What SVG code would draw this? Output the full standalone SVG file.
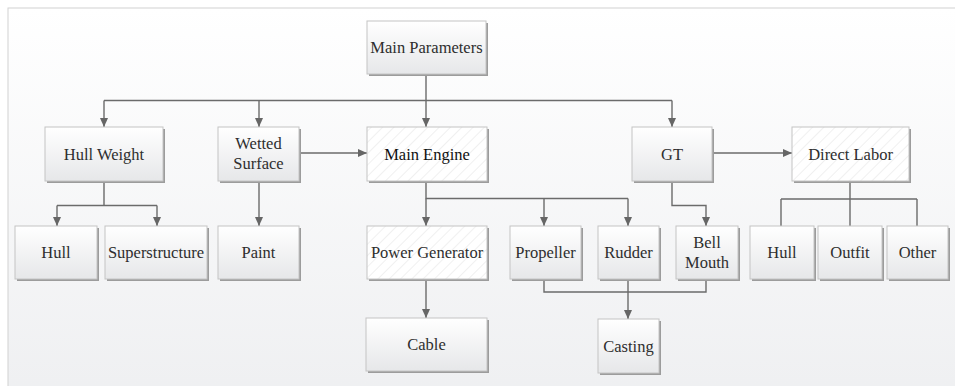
<svg xmlns="http://www.w3.org/2000/svg" width="955" height="386" viewBox="0 0 955 386">
<defs>
<linearGradient id="bg" x1="0" y1="0" x2="0" y2="1">
<stop offset="0" stop-color="#ffffff"/>
<stop offset="1" stop-color="#eeeff1"/>
</linearGradient>
<linearGradient id="box" x1="0" y1="0" x2="0" y2="1">
<stop offset="0" stop-color="#ffffff"/>
<stop offset="1" stop-color="#e6e7e9"/>
</linearGradient>
<pattern id="hatch" width="8" height="8" patternUnits="userSpaceOnUse" patternTransform="rotate(45)">
<rect width="8" height="8" fill="#ffffff"/>
<line x1="0" y1="0" x2="0" y2="8" stroke="#e2e2e2" stroke-width="1"/>
</pattern>
<marker id="arr" markerWidth="10" markerHeight="10" refX="9" refY="5" orient="auto" markerUnits="userSpaceOnUse">
<path d="M0,1 L9,5 L0,9 z" fill="#666"/>
</marker>
</defs>
<style>
.sh{fill:#9c9c9c;}
.bx{fill:url(#box);stroke:#c4c4c4;stroke-width:1;}
.hx{fill:url(#hatch);stroke:#c4c4c4;stroke-width:1;}
text{font-family:"Liberation Serif","Times New Roman",serif;font-size:16.5px;fill:#2e2e2e;text-anchor:middle;}
.b{fill:#111;}
.c{fill:none;stroke:#6b6b6b;stroke-width:1.4;}
.a{marker-end:url(#arr);}
</style>
<rect x="8" y="8" width="960" height="400" fill="url(#bg)" stroke="#d2d2d2" stroke-width="1"/>

<g id="connectors">
<path class="c" d="M426,74 V100.5"/>
<path class="c" d="M104,100.5 H672"/>
<path class="c a" d="M104,100.5 V127"/>
<path class="c a" d="M259,100.5 V127"/>
<path class="c a" d="M426,100.5 V127"/>
<path class="c a" d="M672,100.5 V127"/>
<path class="c a" d="M299,153 H367"/>
<path class="c a" d="M712,153 H792"/>
<path class="c" d="M104,181 V205.5 M57,205.5 H157"/>
<path class="c a" d="M57,205.5 V226"/>
<path class="c a" d="M157,205.5 V226"/>
<path class="c a" d="M259,181 V226"/>
<path class="c" d="M426,181 V198.5 H628"/>
<path class="c a" d="M426,198.5 V226"/>
<path class="c a" d="M544,198.5 V226"/>
<path class="c a" d="M628,198.5 V226"/>
<path class="c a" d="M672,181 V205.5 H706 V226"/>
<path class="c" d="M850,181 V226 M781,199 H917 M781,199 V226 M917,199 V226"/>
<path class="c a" d="M426,279 V318"/>
<path class="c" d="M544,279 V292 H706 V279"/>
<path class="c a" d="M628,279 V319"/>
</g>

<g id="n-main-parameters">
<rect class="sh" x="369" y="23" width="119" height="53"/>
<rect class="bx" x="367" y="21" width="119" height="53"/>
<text x="426.5" y="53">Main Parameters</text>
</g>
<g id="n-hull-weight">
<rect class="sh" x="47" y="129" width="118" height="54"/>
<rect class="bx" x="45" y="127" width="118" height="54"/>
<text x="104" y="159.5">Hull Weight</text>
</g>
<g id="n-wetted-surface">
<rect class="sh" x="220" y="129" width="81" height="54"/>
<rect class="bx" x="218" y="127" width="81" height="54"/>
<text x="258.5" y="149">Wetted</text>
<text x="258.5" y="169">Surface</text>
</g>
<g id="n-main-engine">
<rect class="sh" x="369" y="129" width="120" height="54"/>
<rect class="hx" x="367" y="127" width="120" height="54"/>
<text class="b" x="427" y="159.5">Main Engine</text>
</g>
<g id="n-gt">
<rect class="sh" x="634" y="129" width="80" height="54"/>
<rect class="bx" x="632" y="127" width="80" height="54"/>
<text x="672" y="159.5">GT</text>
</g>
<g id="n-direct-labor">
<rect class="sh" x="794" y="129" width="117" height="54"/>
<rect class="hx" x="792" y="127" width="117" height="54"/>
<text x="850.5" y="159.5">Direct Labor</text>
</g>
<g id="n-hull">
<rect class="sh" x="17" y="228" width="82" height="53"/>
<rect class="bx" x="15" y="226" width="82" height="53"/>
<text x="56" y="258">Hull</text>
</g>
<g id="n-superstructure">
<rect class="sh" x="107" y="228" width="102" height="53"/>
<rect class="bx" x="105" y="226" width="102" height="53"/>
<text x="156" y="258">Superstructure</text>
</g>
<g id="n-paint">
<rect class="sh" x="220" y="228" width="81" height="53"/>
<rect class="bx" x="218" y="226" width="81" height="53"/>
<text x="258.5" y="258">Paint</text>
</g>
<g id="n-power-generator">
<rect class="sh" x="369" y="228" width="120" height="53"/>
<rect class="hx" x="367" y="226" width="120" height="53"/>
<text x="427" y="258">Power Generator</text>
</g>
<g id="n-propeller">
<rect class="sh" x="512" y="228" width="71" height="53"/>
<rect class="bx" x="510" y="226" width="71" height="53"/>
<text x="545.5" y="258">Propeller</text>
</g>
<g id="n-rudder">
<rect class="sh" x="600" y="228" width="61" height="53"/>
<rect class="bx" x="598" y="226" width="61" height="53"/>
<text x="628.5" y="258">Rudder</text>
</g>
<g id="n-bell-mouth">
<rect class="sh" x="678" y="228" width="62" height="53"/>
<rect class="bx" x="676" y="226" width="62" height="53"/>
<text x="707" y="248">Bell</text>
<text x="707" y="268">Mouth</text>
</g>
<g id="n-hull-labor">
<rect class="sh" x="752" y="228" width="64" height="53"/>
<rect class="bx" x="750" y="226" width="64" height="53"/>
<text x="782" y="258">Hull</text>
</g>
<g id="n-outfit">
<rect class="sh" x="820" y="228" width="64" height="53"/>
<rect class="bx" x="818" y="226" width="64" height="53"/>
<text x="850" y="258">Outfit</text>
</g>
<g id="n-other">
<rect class="sh" x="889" y="228" width="61" height="53"/>
<rect class="bx" x="887" y="226" width="61" height="53"/>
<text x="917.5" y="258">Other</text>
</g>
<g id="n-cable">
<rect class="sh" x="368" y="320" width="121" height="53"/>
<rect class="bx" x="366" y="318" width="121" height="53"/>
<text x="426.5" y="350">Cable</text>
</g>
<g id="n-casting">
<rect class="sh" x="600" y="321" width="61" height="54"/>
<rect class="bx" x="598" y="319" width="61" height="54"/>
<text x="628.5" y="351.5">Casting</text>
</g>
</svg>
